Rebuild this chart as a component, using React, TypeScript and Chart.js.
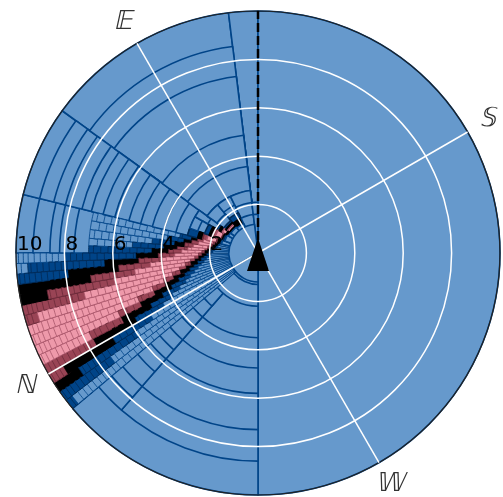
import React, { useEffect, useRef } from 'react';
import { Chart, registerables } from 'chart.js';

Chart.register(...registerables);

// ---- labels / ticks ----
const compassLabels = ['ℕ', '𝔼', '𝕊', '𝕎'];
const compassStart = 240; // direction of ℕ, degrees clockwise from top
const radialTicks = [2, 4, 6, 8, 10];
const radialMax = 10;
const headingDeg = 0; // dashed heading line (clockwise from top)
const headingLength = 10;

// colour levels: light blue, dark blue, black, dark red, light red
const palette = ['#6699CC', '#004488', '#000000', '#994455', '#EE99AA'];
const edgePalette = ['#004488', '#002a55', '#000000', '#6a2a38', '#a8566a'];

// ---- polar cell blocks (angles in math degrees, counter-clockwise from +x) ----
const blockThetaLo = [
  -90, 90, 97, 97, 116, 130, 144, 144, 150, 160,
  166, 166, 169, 172, 175, 177.5, 180, 182.5, 185, 187.5,
  190, 192.5, 195, 197.5, 200, 202.5, 205, 207.5, 210, 212.5,
  215, 217.5, 220, 229, 220, 220, 97, 210,
];
const blockThetaHi = [
  90, 97, 144, 116, 130, 144, 166, 150, 160, 166,
  180, 169, 172, 175, 177.5, 180, 182.5, 185, 187.5, 190,
  192.5, 195, 197.5, 200, 202.5, 205, 207.5, 210, 212.5, 215,
  217.5, 220, 229, 270, 270, 270, 210, 270,
];
// "level:outerRadius" for each radial cell, inside out
const blockCells = [
  '0:10',
  '0:1.6 0:2.1 0:10',
  '0:2.6 0:3.6 0:4.9 0:7.35 0:8.6 0:10',
  '0:1.6 0:2.1 0:2.6',
  '0:1.35 2:1.6 1:1.85 0:2.2 0:2.6',
  '0:1.39 2:1.46 4:1.56 2:1.65 1:1.75 0:2.1 0:2.6',
  '0:3.0 0:3.5 0:4.0 0:4.5 0:5.0 0:5.5 0:6.1 0:6.6 0:7.1 0:7.5 0:8.2 0:8.7 0:9.3 0:10',
  '0:1.41 2:1.53 4:1.71 2:1.86 1:1.98 0:2.4 0:3.0',
  '0:1.46 1:1.52 2:1.58 3:1.63 4:1.90 3:2.02 2:2.15 1:2.35 0:2.65 0:3.0',
  '0:1.55 1:1.63 2:1.71 3:1.78 4:2.19 3:2.36 2:2.57 1:3.0',
  '0:7.6 0:8.2 0:8.6 0:9.3 0:10',
  '0:1.61 1:1.72 2:1.81 3:1.89 4:2.31 3:2.55 2:2.81 1:3.30 0:7.0',
  '0:1.67 1:1.78 2:1.89 3:1.98 4:2.48 3:2.77 2:3.10 1:3.80 0:7.0',
  '0:1.73 1:1.86 2:1.99 3:2.09 4:2.68 3:3.04 2:3.46 1:4.40 0:7.0',
  '0:1.79 1:1.94 2:2.09 3:2.20 4:2.90 3:3.34 2:3.88 1:5.20 0:7.0',
  '0:1.86 1:2.03 2:2.19 3:2.32 4:3.15 3:3.69 2:4.38 1:7.0',
  '0:1.94 1:2.12 2:2.31 3:2.46 4:3.44 3:4.12 2:5.03 1:8.0 0:10',
  '0:2.03 1:2.23 2:2.45 3:2.62 4:3.97 3:4.93 2:6.34 1:9.53 0:10',
  '0:2.13 1:2.36 2:2.61 3:2.81 4:4.47 3:5.78 2:7.87 1:10',
  '0:2.25 1:2.51 2:2.80 3:3.04 4:5.14 3:6.98 2:10',
  '0:2.38 1:2.69 2:3.02 3:3.31 4:6.05 3:8.85 2:10',
  '0:2.54 1:2.89 2:3.29 3:3.64 4:7.37 3:10',
  '0:2.72 1:3.14 2:3.62 3:4.06 4:9.45 3:10',
  '0:2.94 1:3.44 2:4.04 3:4.59 4:10',
  '0:3.20 1:3.82 2:4.57 3:5.30 4:10',
  '0:3.52 1:4.29 2:5.27 3:6.27 4:10',
  '0:3.92 1:4.91 2:6.24 3:7.71 4:10',
  '0:4.44 1:5.74 2:7.67 3:10',
  '0:5.12 1:6.95 2:9.3 3:10',
  '0:6.06 1:8.80 2:10',
  '0:7.45 1:10',
  '0:9.69 1:10',
  '0:2.9 0:3.5 0:4.1 0:4.75 0:5.3 0:5.8 0:6.5 0:7.3 0:7.9 0:8.6',
  '0:3.5 0:4.75 0:5.8 0:7.3 0:8.6',
  '0:10',
  '0:1.3 0:2.2',
  '0:1.2',
  '0:1.2',
];
// extra thin radial subdivisions: max radius (0 = none) and which ring set
const blockTexMax = [
  0, 0, 0, 0, 0, 0, 0, 0, 0, 0,
  0, 7, 7, 7, 7, 7, 10, 10, 10, 10,
  10, 10, 10, 10, 10, 10, 10, 10, 10, 10,
  10, 10, 0, 0, 0, 0, 0, 0,
];
const blockTexSet = [
  0, 0, 0, 0, 0, 0, 0, 0, 0, 0,
  0, 0, 1, 0, 1, 0, 1, 0, 1, 0,
  1, 0, 1, 0, 1, 0, 1, 0, 1, 0,
  1, 0, 0, 0, 0, 0, 0, 0,
];
const fineRingsA = [2.3, 2.6, 2.9, 3.2, 3.5, 3.8, 4.1, 4.4, 4.7, 5.0, 5.3, 5.6, 5.9, 6.2, 6.5, 6.8, 7.1, 7.4, 7.65, 7.9, 8.15, 8.4, 8.65, 8.9, 9.15, 9.4, 9.6, 9.8];
const fineRingsB = [2.45, 2.75, 3.05, 3.35, 3.65, 3.95, 4.25, 4.55, 4.85, 5.15, 5.45, 5.75, 6.05, 6.35, 6.65, 6.95, 7.25, 7.5, 7.75, 8.0, 8.25, 8.5, 8.75, 9.0, 9.25, 9.5, 9.7, 9.9];

type Cell = { start: number; width: number; r: number; color: string; edge: string; bw: number };

function buildDatasets() {
  const cells: Cell[] = [];
  blockCells.forEach((spec, b) => {
    const bands = spec.split(' ').map((s) => {
      const [c, r] = s.split(':');
      return { c: Number(c), r: Number(r) };
    });
    const edges = bands.map((d) => d.r);
    const texMax = blockTexMax[b];
    if (texMax > 0) {
      const set = blockTexSet[b] === 0 ? fineRingsA : fineRingsB;
      set.forEach((r) => {
        if (r < texMax && !edges.some((e) => Math.abs(e - r) < 0.09)) edges.push(r);
      });
    }
    edges.sort((a, z) => a - z);
    const phiStart = (((450 - blockThetaHi[b]) % 360) + 360) % 360;
    const width = blockThetaHi[b] - blockThetaLo[b];
    const offset = (((phiStart - compassStart) % 360) + 360) % 360;
    edges.forEach((e) => {
      const band = bands.find((d) => d.r >= e - 1e-9) || bands[bands.length - 1];
      cells.push({
        start: offset,
        width,
        r: e,
        color: palette[band.c],
        edge: edgePalette[band.c],
        bw: texMax > 0 ? 0.8 : 1.6,
      });
    });
  });
  // draw larger radii first
  cells.sort((a, z) => z.r - a.r);
  const runs: Cell[][] = [];
  let cur: Cell[] = [];
  const overlap = (a: Cell, c: Cell) => a.start < c.start + c.width - 1e-6 && c.start < a.start + a.width - 1e-6;
  cells.forEach((c) => {
    if (cur.some((o) => overlap(o, c))) {
      runs.push(cur);
      cur = [];
    }
    cur.push(c);
  });
  if (cur.length) runs.push(cur);

  const datasets = runs.map((run) => {
    run.sort((a, z) => a.start - z.start);
    const data: number[] = [];
    const angles: number[] = [];
    const bg: string[] = [];
    const bc: string[] = [];
    const bw: number[] = [];
    let cursor = 0;
    run.forEach((c) => {
      if (c.start - cursor > 1e-6) {
        data.push(0);
        angles.push(c.start - cursor);
        bg.push('rgba(0,0,0,0)');
        bc.push('rgba(0,0,0,0)');
        bw.push(0);
      }
      data.push(c.r);
      angles.push(c.width);
      bg.push(c.color);
      bc.push(c.edge);
      bw.push(c.bw);
      cursor = c.start + c.width;
    });
    return {
      data,
      angle: (ctx: any) => angles[ctx.dataIndex],
      backgroundColor: bg,
      borderColor: bc,
      borderWidth: bw,
    };
  });
  return datasets.reverse();
}

const overlayPlugin = {
  id: 'overlay',
  afterDraw(chart: any) {
    const s = chart.scales.r;
    const ctx = chart.ctx as CanvasRenderingContext2D;
    const cx = s.xCenter;
    const cy = s.yCenter;
    ctx.save();
    // heading line
    const d = s.getDistanceFromCenterForValue(headingLength);
    const a = (headingDeg * Math.PI) / 180;
    ctx.strokeStyle = '#000';
    ctx.lineWidth = 2.5;
    ctx.setLineDash([9, 4]);
    ctx.beginPath();
    ctx.moveTo(cx, cy);
    ctx.lineTo(cx + d * Math.sin(a), cy - d * Math.cos(a));
    ctx.stroke();
    ctx.setLineDash([]);
    // centre marker
    ctx.fillStyle = '#000';
    ctx.beginPath();
    ctx.moveTo(cx, cy - 15);
    ctx.lineTo(cx - 11, cy + 18);
    ctx.lineTo(cx + 11, cy + 18);
    ctx.closePath();
    ctx.fill();
    // radial tick labels
    ctx.font = '20px "DejaVu Sans"';
    ctx.textAlign = 'left';
    ctx.textBaseline = 'alphabetic';
    radialTicks.forEach((v) => {
      const dd = s.getDistanceFromCenterForValue(v);
      ctx.fillText(String(v), cx - dd + 1, cy - 3);
    });
    // compass labels (slanted)
    ctx.font = '26px "DejaVu Sans"';
    ctx.fillStyle = '#333';
    ctx.textAlign = 'center';
    ctx.textBaseline = 'middle';
    compassLabels.forEach((l, i) => {
      const p = s.getPointPosition(i, s.drawingArea + 25);
      ctx.save();
      ctx.translate(p.x, p.y);
      ctx.transform(1, 0, -0.22, 1, 0, 0);
      ctx.fillText(l, 0, 0);
      ctx.restore();
    });
    ctx.restore();
  },
};

export default function App() {
  const ref = useRef<HTMLCanvasElement>(null);
  useEffect(() => {
    const chart = new Chart(ref.current as HTMLCanvasElement, {
      type: 'polarArea',
      data: { labels: compassLabels, datasets: buildDatasets() as any },
      options: {
        responsive: false,
        animation: false,
        devicePixelRatio: 1,
        events: [],
        layout: { padding: { left: 16, right: 3, top: 11, bottom: 2 } },
        plugins: { legend: { display: false }, tooltip: { enabled: false } },
        scales: {
          r: {
            min: 0,
            max: radialMax,
            startAngle: compassStart,
            ticks: { display: false, stepSize: 2 },
            pointLabels: { display: false },
            grid: {
              circular: true,
              z: 1,
              color: (c: any) => (c.tick && c.tick.value === radialMax ? '#222' : '#ffffff'),
              lineWidth: (c: any) => (c.tick && c.tick.value === radialMax ? 1.2 : 1.5),
            },
            angleLines: { display: true, color: '#ffffff', lineWidth: 1.5 },
          },
        },
      } as any,
      plugins: [overlayPlugin],
    });
    return () => chart.destroy();
  }, []);
  return <canvas ref={ref} width={503} height={497} style={{ position: 'absolute', left: 0, top: 0 }} />;
}
